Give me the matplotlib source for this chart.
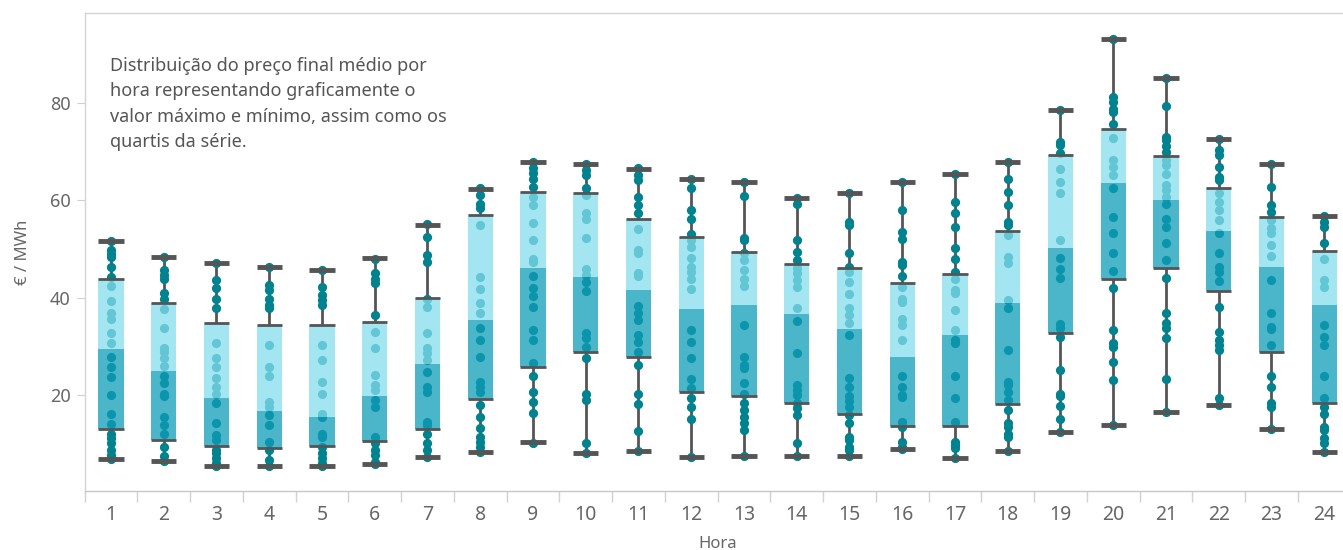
import numpy as np
import matplotlib
matplotlib.use("Agg")
import matplotlib.pyplot as plt

plt.rcParams['font.family'] = ['Noto Sans', 'DejaVu Sans']

hours = list(range(1, 25))

# box statistics per hour (€/MWh)
mins = [6.9, 6.5, 5.5, 5.5, 5.5, 5.9, 7.3, 8.4, 10.4, 8.0, 8.6, 7.3,
        7.5, 7.5, 7.5, 9.0, 7.0, 8.6, 12.5, 13.9, 16.6, 17.9, 13.0, 8.4]
q1 = [13.0, 10.8, 9.6, 9.2, 9.6, 10.6, 13.1, 19.2, 25.8, 28.9, 27.9, 20.7,
      19.7, 18.4, 16.1, 13.7, 13.7, 18.2, 32.8, 43.9, 46.1, 41.4, 28.8, 18.4]
medians = [29.4, 24.9, 19.3, 16.7, 15.5, 19.7, 26.4, 35.4, 46.1, 44.2, 41.5, 37.6,
           38.5, 36.6, 33.5, 27.7, 32.3, 38.8, 50.1, 63.6, 60.1, 53.6, 46.3, 38.5]
q3 = [43.8, 38.9, 34.7, 34.4, 34.4, 35.0, 40.0, 57.0, 61.7, 61.5, 56.2, 52.5,
      49.4, 46.9, 46.1, 43.0, 44.8, 53.7, 69.2, 74.6, 69.0, 62.5, 56.6, 49.5]
maxs = [51.6, 48.4, 47.1, 46.3, 45.7, 48.2, 54.9, 62.3, 67.9, 67.4, 66.4, 64.4,
        63.8, 60.5, 61.5, 63.8, 65.3, 67.9, 78.5, 93.1, 85.1, 72.5, 67.4, 56.8]

# daily average prices per hour (points)
points = {
    1: [51.6, 49.8, 49.0, 48.3, 46.3, 44.2, 42.4, 39.3, 36.9, 35.5, 32.7, 30.6, 27.8, 25.8,
        23.7, 19.9, 16.1, 14.1, 12.1, 11.1, 10.1, 8.7, 7.7, 6.9],
    2: [48.4, 45.6, 44.6, 43.9, 40.9, 39.8, 37.6, 33.7, 29.6, 28.9, 27.5, 26.0, 23.8, 22.4,
        20.3, 19.8, 15.5, 13.8, 12.1, 9.4, 7.5, 6.5],
    3: [47.1, 43.7, 41.9, 39.7, 37.9, 30.6, 27.6, 25.8, 23.4, 21.7, 20.3, 18.4, 14.3, 11.8,
        10.8, 8.7, 8.0, 7.0, 6.0, 5.4],
    4: [46.3, 42.6, 41.5, 39.8, 38.5, 37.8, 30.3, 25.8, 23.8, 18.6, 17.6, 15.9, 13.8, 10.4,
        8.7, 6.7, 5.4],
    5: [45.6, 42.2, 40.5, 39.5, 38.5, 30.3, 27.2, 22.7, 20.3, 16.2, 15.5, 12.1, 11.4, 9.4,
        8.0, 7.0, 6.0, 5.5],
    6: [48.0, 45.0, 43.9, 42.9, 36.4, 33.0, 29.6, 24.1, 22.1, 21.0, 19.0, 17.6, 11.4, 10.1,
        8.7, 7.7, 6.3, 5.9],
    7: [55.1, 52.5, 48.7, 47.3, 39.8, 38.1, 32.7, 29.6, 28.6, 27.2, 24.8, 21.7, 20.7, 14.5,
        13.8, 12.1, 10.1, 8.7, 7.3],
    8: [62.4, 61.0, 59.3, 58.3, 54.9, 44.3, 41.7, 38.9, 36.8, 33.7, 31.3, 27.9, 22.7, 21.7,
        20.7, 17.9, 15.5, 13.2, 11.4, 10.4, 9.4, 8.4],
    9: [67.9, 66.5, 65.5, 64.4, 62.7, 60.7, 59.0, 55.2, 51.8, 48.0, 47.3, 44.4, 41.9, 40.3,
        38.0, 33.3, 31.3, 26.6, 24.0, 20.7, 18.5, 16.4, 10.2],
    10: [67.5, 66.2, 65.1, 62.4, 61.0, 57.3, 56.2, 52.3, 45.8, 44.6, 43.2, 41.4, 32.7, 31.6,
         29.9, 27.5, 20.3, 19.0, 10.2, 8.0],
    11: [66.5, 65.1, 64.1, 60.7, 59.0, 57.3, 54.1, 49.7, 49.1, 45.1, 44.4, 38.3, 36.8, 35.4,
         32.3, 30.9, 28.9, 26.2, 20.3, 18.2, 12.7, 8.5],
    12: [64.4, 62.4, 57.9, 56.2, 53.0, 51.8, 50.4, 48.2, 46.2, 45.3, 43.9, 41.7, 33.3, 30.9,
         27.5, 23.3, 21.4, 19.3, 17.6, 15.0, 7.3],
    13: [63.8, 60.8, 52.3, 51.8, 49.1, 47.7, 45.6, 43.9, 42.4, 34.4, 27.9, 26.2, 25.5, 22.4,
         20.3, 18.3, 16.9, 15.5, 14.2, 12.8, 7.5],
    14: [60.5, 59.3, 51.8, 49.4, 47.7, 46.0, 45.0, 43.6, 42.2, 37.9, 35.1, 28.6, 22.1, 21.0,
         20.0, 18.3, 17.3, 15.9, 10.1, 7.5],
    15: [61.5, 55.6, 54.9, 49.2, 46.3, 45.3, 43.2, 40.7, 37.9, 36.4, 34.7, 32.3, 23.4, 21.7,
         19.7, 18.8, 17.6, 15.9, 14.2, 11.4, 10.8, 9.4, 8.7, 7.5],
    16: [63.8, 57.9, 53.5, 52.1, 47.3, 46.7, 44.4, 42.2, 39.8, 39.1, 35.7, 34.4, 31.3, 23.8,
         21.6, 20.0, 19.5, 14.5, 13.5, 10.4, 9.4, 9.0],
    17: [65.3, 59.7, 57.3, 54.5, 50.1, 48.0, 45.3, 43.9, 41.5, 40.9, 37.4, 33.3, 31.3, 30.6,
         23.8, 19.3, 14.5, 10.4, 9.7, 9.1, 7.0],
    18: [67.9, 64.4, 61.7, 59.0, 55.6, 54.9, 52.8, 48.4, 47.0, 39.5, 37.8, 29.2, 22.7, 22.1,
         20.7, 19.0, 16.9, 14.2, 13.5, 12.1, 11.4, 8.6],
    19: [78.5, 72.0, 71.3, 69.6, 66.3, 63.8, 61.4, 51.8, 48.2, 45.8, 44.1, 34.6, 33.7, 32.0,
         25.1, 20.3, 19.7, 17.8, 15.1, 12.5],
    20: [93.1, 81.2, 80.2, 78.8, 78.1, 75.6, 72.7, 68.3, 66.8, 65.1, 62.4, 56.6, 53.2, 49.1,
         45.5, 42.0, 33.3, 30.7, 29.9, 26.8, 23.1, 13.9],
    21: [85.1, 79.3, 73.0, 72.3, 71.1, 69.9, 68.2, 67.2, 65.3, 63.1, 62.1, 60.7, 59.3, 56.2,
         54.5, 51.2, 47.7, 44.1, 36.8, 34.7, 33.7, 31.6, 23.3, 16.6],
    22: [72.5, 70.3, 69.2, 66.8, 64.8, 64.1, 61.4, 59.7, 57.9, 55.9, 53.2, 49.2, 46.3, 45.3,
         43.4, 38.1, 33.0, 31.3, 30.3, 29.2, 19.3, 18.0],
    23: [67.4, 62.7, 59.0, 57.6, 55.9, 54.2, 53.3, 50.8, 48.5, 43.7, 36.9, 34.0, 33.5, 30.3,
         23.8, 21.7, 18.3, 17.6, 13.0],
    24: [56.8, 55.6, 54.5, 51.1, 48.0, 43.6, 42.2, 34.4, 32.0, 30.3, 23.8, 19.3, 17.6, 16.2,
         13.5, 12.8, 11.1, 10.1, 8.4],
}

annotation = ("Distribuição do preço final médio por\n"
              "hora representando graficamente o\n"
              "valor máximo e mínimo, assim como os\n"
              "quartis da série.")

dot_color = "#00838f"
upper_color = (132 / 255, 222 / 255, 238 / 255)
lower_color = (15 / 255, 156 / 255, 183 / 255)
line_color = "#555555"
box_w = 0.48

fig = plt.figure(figsize=(13.43, 5.5), dpi=100)
ax = fig.add_axes([84.6 / 1343, 59 / 550, 1266 / 1343, 478 / 550])

for i, h in enumerate(hours):
    # whiskers
    ax.plot([h, h], [mins[i], q1[i]], color=line_color, lw=2, zorder=1, solid_capstyle="butt")
    ax.plot([h, h], [q3[i], maxs[i]], color=line_color, lw=2, zorder=1, solid_capstyle="butt")
    # points
    vals = points[h]
    ax.scatter([h] * len(vals), vals, s=44, color=dot_color, linewidths=0, zorder=2)
    # boxes
    ax.bar(h, medians[i] - q1[i], bottom=q1[i], width=box_w, color=lower_color,
           alpha=0.75, zorder=3, linewidth=0)
    ax.bar(h, q3[i] - medians[i], bottom=medians[i], width=box_w, color=upper_color,
           alpha=0.75, zorder=3, linewidth=0)
    # box edges and caps
    for y in (q1[i], q3[i]):
        ax.plot([h - box_w / 2, h + box_w / 2], [y, y], color=line_color, lw=2, zorder=4,
                solid_capstyle="butt")
    for y in (mins[i], maxs[i]):
        ax.plot([h - box_w / 2, h + box_w / 2], [y, y], color=line_color, lw=3.5, zorder=4,
                solid_capstyle="butt")

ax.set_xlim(0.5, 24.5)
ax.set_ylim(0.3, 98.4)

ax.set_xticks(hours)
ax.set_xticklabels([str(h) for h in hours])
ax.set_xticks(np.arange(0.5, 25, 1), minor=True)
ax.tick_params(axis="x", which="major", length=0, labelsize=14, labelcolor="#666666", pad=10)
ax.tick_params(axis="x", which="minor", length=8, color="#d0d0d0", width=1)
ax.set_yticks([20, 40, 60, 80])
ax.tick_params(axis="y", length=6, color="#d0d0d0", labelsize=13, labelcolor="#666666", pad=4)

for side in ("left", "top"):
    ax.spines[side].set_color("#d4d4d4")
    ax.spines[side].set_linewidth(1)
ax.spines["right"].set_visible(False)
ax.spines["bottom"].set_color("#c8c8c8")
ax.spines["bottom"].set_linestyle((0, (2, 1)))
ax.spines["bottom"].set_linewidth(1)

ax.set_xlabel("Hora", fontsize=12, color="#666666", labelpad=8)
ax.set_ylabel("€ / MWh", fontsize=12, color="#666666", labelpad=14)

fig.text(110 / 1343, 1 - 57 / 550, annotation, fontsize=13, color="#555555",
         va="top", ha="left", linespacing=1.52)

fig.savefig("out.png", dpi=100)
